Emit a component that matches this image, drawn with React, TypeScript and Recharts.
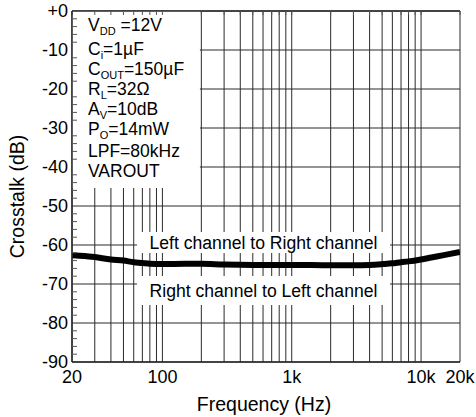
import { LineChart, Line, XAxis, YAxis, CartesianGrid, ReferenceArea } from 'recharts'

// measured crosstalk, Hz vs dB
const freqs = [20, 25, 30, 40, 50, 60, 70, 80, 100, 150, 200, 300, 500, 700, 1000, 2000, 3000, 4000, 5000, 6000, 7000, 8000, 10000, 12000, 15000, 20000]
const crosstalk = [-62.6, -62.8, -63.1, -63.7, -64.0, -64.4, -64.6, -64.8, -64.9, -64.8, -64.8, -65.0, -65.1, -65.1, -65.1, -65.2, -65.2, -65.1, -64.9, -64.7, -64.4, -64.2, -63.7, -63.2, -62.6, -61.8]

const xTicks = [20, 100, 1000, 10000, 20000]
const xTickLabels = ['20', '100', '1k', '10k', '20k']
const gridFreqs = [20, 30, 40, 50, 60, 70, 80, 90, 100, 200, 300, 400, 500, 600, 700, 800, 900, 1000, 2000, 3000, 4000, 5000, 6000, 7000, 8000, 9000, 10000, 20000]

const yTicks = [0, -10, -20, -30, -40, -50, -60, -70, -80, -90]
const yTickLabels = ['+0', '-10', '-20', '-30', '-40', '-50', '-60', '-70', '-80', '-90']
const yMinorTicks = [-2, -4, -6, -8, -12, -14, -16, -18, -22, -24, -26, -28, -32, -34, -36, -38, -42, -44, -46, -48, -52, -54, -56, -58, -62, -64, -66, -68, -72, -74, -76, -78, -82, -84, -86, -88]

// test conditions: [symbol, subscript, rest]
const conditions = [
  ['V', 'DD', ' =12V'],
  ['C', 'i', '=1µF'],
  ['C', 'OUT', '=150µF'],
  ['R', 'L', '=32Ω'],
  ['A', 'V', '=10dB'],
  ['P', 'O', '=14mW'],
  ['LPF=80kHz', '', ''],
  ['VAROUT', '', ''],
]

const data = freqs.map((f, i) => ({ f, db: crosstalk[i] }))

const FONT = '"Liberation Sans", Arial, Helvetica, sans-serif'
const INK = '#000'
const GRID = '#2a2a2a'
const noLabel = () => ''

function ConditionsLabel({ viewBox }: any) {
  const lineY = [19.7, 44, 64, 84, 104, 124, 145.5, 165.5]
  return (
    <g fontSize={17.5} fill={INK} fontFamily={FONT}>
      {conditions.map(([main, sub, rest], i) => (
        <text key={i} x={viewBox.x + 16} y={viewBox.y + lineY[i]}>
          {main}
          {sub && (
            <tspan fontSize={11} dy={4}>
              {sub}
            </tspan>
          )}
          {sub && <tspan dy={-4}>{rest}</tspan>}
        </text>
      ))}
    </g>
  )
}

export default function App() {
  return (
    <div style={{ position: 'absolute', left: 0, top: 0, background: '#fff' }}>
      <LineChart
        width={476}
        height={417}
        data={data}
        margin={{ top: 11, right: 16, bottom: 0, left: 0 }}
        style={{ fontFamily: FONT }}
      >
        <CartesianGrid
          stroke={GRID}
          strokeWidth={1}
          verticalValues={gridFreqs}
          horizontalValues={yTicks}
          zIndex={-100}
        />

        {/* white panels under the annotations hide the grid */}
        <ReferenceArea
          x1={20}
          x2={195}
          y1={-45.4}
          y2={0}
          fill="#fff"
          fillOpacity={1}
          stroke="none"
          zIndex={-50}
          label={(props: any) => <ConditionsLabel {...props} />}
        />
        <ReferenceArea
          x1={63.6}
          x2={5750}
          y1={-62.05}
          y2={-56.67}
          fill="#fff"
          fillOpacity={1}
          stroke="none"
          zIndex={-50}
          label={{ value: 'Left channel to Right channel', position: 'center', fontSize: 17.6, fill: INK }}
        />
        <ReferenceArea
          x1={63.6}
          x2={5750}
          y1={-75.38}
          y2={-67.95}
          fill="#fff"
          fillOpacity={1}
          stroke="none"
          zIndex={-50}
          label={{ value: 'Right channel to Left channel', position: 'center', fontSize: 17.6, fill: INK }}
        />

        <XAxis
          dataKey="f"
          type="number"
          scale="log"
          domain={[20, 20000]}
          allowDataOverflow
          ticks={xTicks}
          tickFormatter={(v: number) => xTickLabels[xTicks.indexOf(v)] ?? ''}
          tick={{ fill: INK, fontSize: 18 }}
          tickLine={false}
          axisLine={{ stroke: GRID, strokeWidth: 1.5 }}
          height={55}
          interval={0}
          label={({ viewBox }: any) => (
            <text
              x={viewBox.x + viewBox.width / 2 - 2}
              y={viewBox.y + 48.5}
              textAnchor="middle"
              fontSize={19.5}
              fill={INK}
            >
              Frequency (Hz)
            </text>
          )}
        />
        {/* short ticks along the top edge, one per grid frequency */}
        <XAxis
          xAxisId="top"
          orientation="top"
          dataKey="f"
          type="number"
          scale="log"
          domain={[20, 20000]}
          allowDataOverflow
          ticks={gridFreqs}
          interval={0}
          mirror
          height={1}
          tickSize={4}
          tickFormatter={noLabel}
          tickLine={{ stroke: '#555' }}
          axisLine={{ stroke: GRID, strokeWidth: 1.5 }}
        />
        <YAxis
          type="number"
          domain={[-90, 0]}
          ticks={yTicks}
          interval={0}
          tickFormatter={(v: number) => yTickLabels[yTicks.indexOf(v)] ?? ''}
          tick={{ fill: INK, fontSize: 18 }}
          tickLine={false}
          tickSize={0}
          tickMargin={4}
          axisLine={{ stroke: GRID, strokeWidth: 1.5 }}
          width={72}
          label={({ viewBox }: any) => {
            const cx = viewBox.x + 24
            const cy = viewBox.y + viewBox.height / 2 + 10
            return (
              <text
                x={cx}
                y={cy}
                transform={`rotate(-90, ${cx}, ${cy})`}
                textAnchor="middle"
                fontSize={19.5}
                fill={INK}
              >
                Crosstalk (dB)
              </text>
            )
          }}
        />
        {/* 2 dB minor ticks pointing into the plot */}
        <YAxis
          yAxisId="minor"
          dataKey="db"
          type="number"
          domain={[-90, 0]}
          allowDataOverflow
          ticks={yMinorTicks}
          interval={0}
          mirror
          width={1}
          tickSize={5}
          tickFormatter={noLabel}
          tickLine={{ stroke: '#555' }}
          axisLine={false}
        />

        <Line
          type="monotone"
          dataKey="db"
          stroke={INK}
          strokeWidth={6}
          dot={false}
          activeDot={false}
          isAnimationActive={false}
        />
      </LineChart>
    </div>
  )
}
